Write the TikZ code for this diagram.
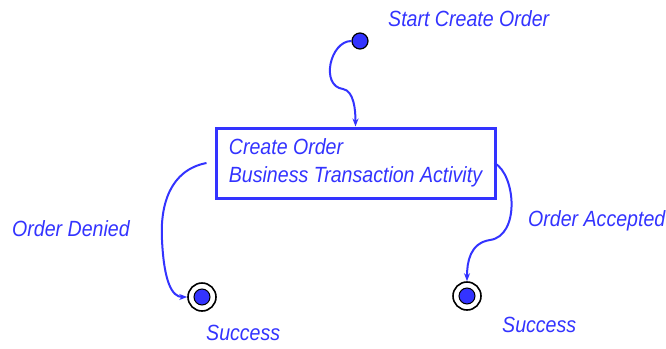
\documentclass[tikz,border=0pt]{standalone}
\usepackage{fontspec}
\setmainfont{Liberation Sans}
\newfontfamily\lblfont{Liberation Sans}[FakeStretch=0.89]
\usepackage{tikz}
\usetikzlibrary{arrows.meta}
\usetikzlibrary{calc}
\definecolor{umlblue}{RGB}{51,51,255}
\tikzstyle{lbl}=[text=umlblue, font=\lblfont\fontsize{22}{28.5}\selectfont\itshape, inner sep=0pt]
\tikzstyle{initial}=[circle, draw=black, fill=umlblue, line width=1.2pt, minimum size=16pt, inner sep=0pt]
\tikzstyle{final}=[circle, draw=black, line width=1.6pt, minimum size=28pt, inner sep=0pt,
	path picture={\filldraw[fill=umlblue, draw=black, line width=1pt] (path picture bounding box.center) circle (8pt);}]
\tikzstyle{activity}=[draw=umlblue, line width=3pt, minimum width=279pt, minimum height=70pt, inner sep=0pt, align=left, lbl]
\tikzstyle{flow}=[draw=umlblue, line width=2pt, -{Stealth[length=8pt,width=6pt]}]

\begin{document}
\begin{tikzpicture}[x=1pt,y=-1pt]
\useasboundingbox (0,0) rectangle (666,348);
\node[initial] (start) at (360,41) {};
\node[lbl, anchor=west] (startlbl) at (388,19) {Start Create Order};
\node[activity] (create) at (355.5,163) {Create Order\\Business Transaction Activity};
\node[final] (denied) at (202,297) {};
\node[final] (accepted) at (467,296) {};
\node[lbl, anchor=west] (deniedlbl) at (12,229) {Order Denied};
\node[lbl, anchor=west] (acceptedlbl) at (528,221) {Order Accepted};
\node[lbl, anchor=west] (succ1) at (206,333) {Success};
\node[lbl, anchor=west] (succ2) at (502,325) {Success};
\coordinate (leftout) at ($(create.west)+(-8,0)$);
\coordinate (rightout) at ($(create.east)+(-2,0)$);
\draw[flow] (start.west) .. controls (330,41) and (320,86) .. (343,89) .. controls (354,91) and (355.5,110) .. (create.north);
\draw[flow] (leftout) .. controls (170,170) and (160,205) .. (162,240) .. controls (164,282) and (172,297) .. (denied.west);
\draw[flow] (rightout) .. controls (516,175) and (520,236) .. (490,240) .. controls (470,243) and (467,262) .. (accepted.north);
\end{tikzpicture}
\end{document}
